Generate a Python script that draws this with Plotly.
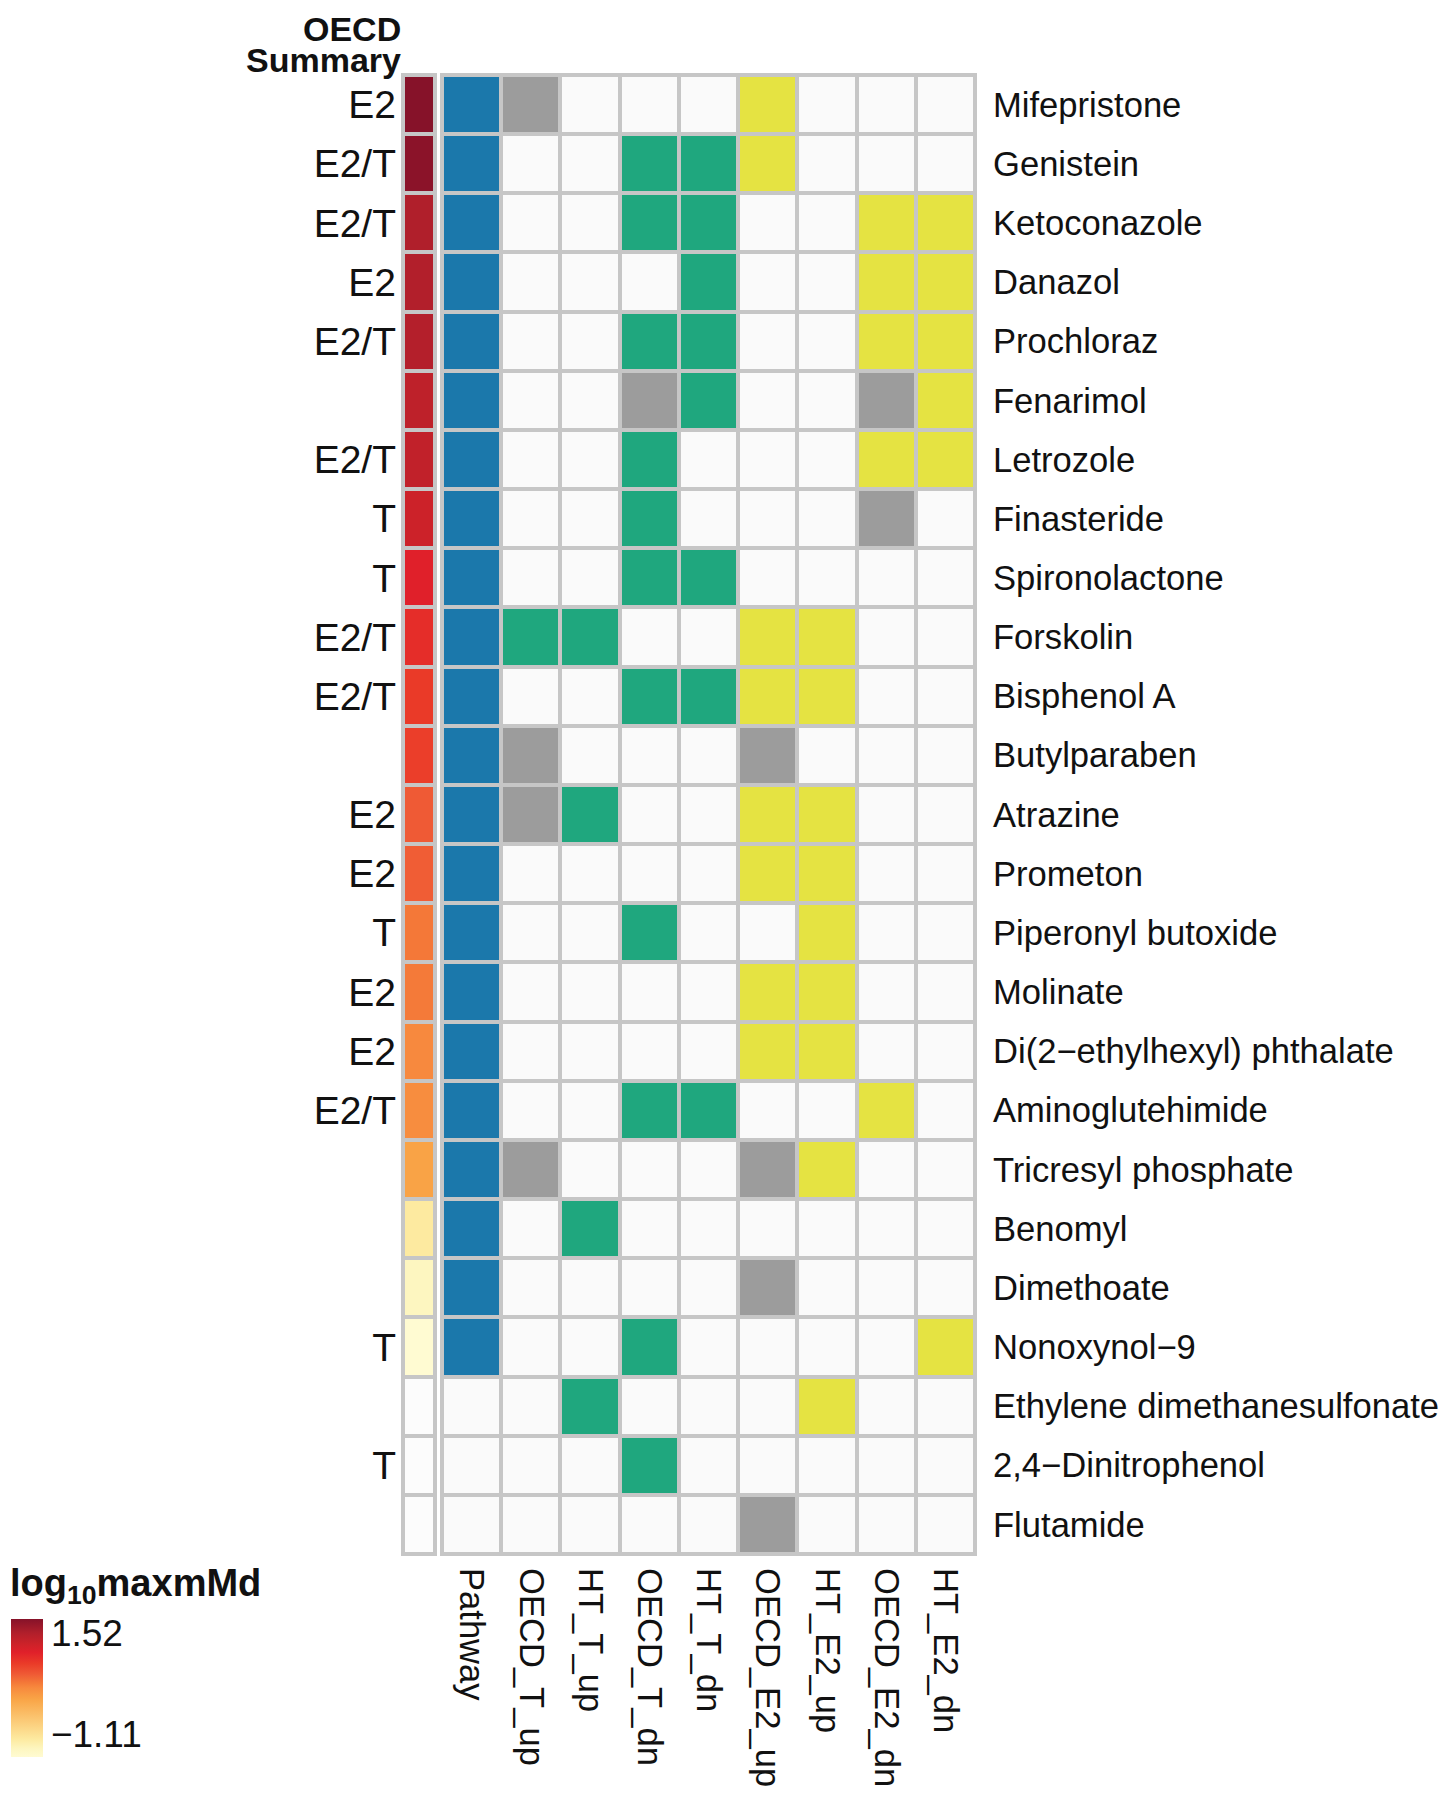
import math
import plotly.graph_objects as go

# compounds, top to bottom
compounds = [
    "Mifepristone", "Genistein", "Ketoconazole", "Danazol", "Prochloraz",
    "Fenarimol", "Letrozole", "Finasteride", "Spironolactone", "Forskolin",
    "Bisphenol A", "Butylparaben", "Atrazine", "Prometon", "Piperonyl butoxide",
    "Molinate", "Di(2\u2212ethylhexyl) phthalate", "Aminoglutehimide",
    "Tricresyl phosphate", "Benomyl", "Dimethoate", "Nonoxynol\u22129",
    "Ethylene dimethanesulfonate", "2,4\u2212Dinitrophenol", "Flutamide",
]

oecd_summary = [
    "E2", "E2/T", "E2/T", "E2", "E2/T", "", "E2/T", "T", "T", "E2/T",
    "E2/T", "", "E2", "E2", "T", "E2", "E2", "E2/T", "", "",
    "", "T", "", "T", "",
]

# log10 maxmMd (None = not available)
log10_maxmmd = [
    1.52, 1.49, 1.26, 1.24, 1.23, 1.15, 1.13, 1.05, 0.89, 0.78,
    0.68, 0.65, 0.47, 0.45, 0.31, 0.30, 0.21, 0.18, 0.00, -0.77,
    -0.95, -1.11, None, None, None,
]

# 0 = not active, 1 = active, 2 = equivocal
pathway    = [1] * 22 + [0, 0, 0]
oecd_t_up  = [2,0,0,0,0,0,0,0,0,1,0,2,2,0,0,0,0,0,2,0,0,0,0,0,0]
ht_t_up    = [0,0,0,0,0,0,0,0,0,1,0,0,1,0,0,0,0,0,0,1,0,0,1,0,0]
oecd_t_dn  = [0,1,1,0,1,2,1,1,1,0,1,0,0,0,1,0,0,1,0,0,0,1,0,1,0]
ht_t_dn    = [0,1,1,1,1,1,0,0,1,0,1,0,0,0,0,0,0,1,0,0,0,0,0,0,0]
oecd_e2_up = [1,1,0,0,0,0,0,0,0,1,1,2,1,1,0,1,1,0,2,0,2,0,0,0,2]
ht_e2_up   = [0,0,0,0,0,0,0,0,0,1,1,0,1,1,1,1,1,0,1,0,0,0,1,0,0]
oecd_e2_dn = [0,0,1,1,1,2,1,2,0,0,0,0,0,0,0,0,0,1,0,0,0,0,0,0,0]
ht_e2_dn   = [0,0,1,1,1,1,1,0,0,0,0,0,0,0,0,0,0,0,0,0,0,1,0,0,0]

columns = ["Pathway", "OECD_T_up", "HT_T_up", "OECD_T_dn", "HT_T_dn",
           "OECD_E2_up", "HT_E2_up", "OECD_E2_dn", "HT_E2_dn"]
column_data = [pathway, oecd_t_up, ht_t_up, oecd_t_dn, ht_t_dn,
               oecd_e2_up, ht_e2_up, oecd_e2_dn, ht_e2_dn]
# what an active call is coloured as, per column
active_kind = ["pathway", "T", "T", "T", "T", "E2", "E2", "E2", "E2"]

# colour index: 0 none, 1 pathway, 2 equivocal, 3 T, 4 E2
kind_index = {"pathway": 1, "T": 3, "E2": 4}
n_rows = len(compounds)
n_cols = len(columns)
z_main = []
for r in range(n_rows):
    row = []
    for c in range(n_cols):
        v = column_data[c][r]
        if v == 1:
            row.append(kind_index[active_kind[c]])
        elif v == 2:
            row.append(2)
        else:
            row.append(0)
    z_main.append(row)

c_none, c_path, c_eq, c_t, c_e2 = "#fafafa", "#1b78ab", "#9c9c9c", "#1fa77e", "#e5e342"
main_scale = [
    [0.0, c_none], [0.125, c_none], [0.125, c_path], [0.375, c_path],
    [0.375, c_eq], [0.625, c_eq], [0.625, c_t], [0.875, c_t],
    [0.875, c_e2], [1.0, c_e2],
]

# yellow -> orange -> red -> dark red, as in the figure
heat_scale = [
    [0.0, "#fffbd2"], [0.06, "#fdf6c0"], [0.13, "#fdeaa0"], [0.42, "#f9a446"],
    [0.50, "#f78a3e"], [0.54, "#f47838"], [0.60, "#ef5a35"], [0.68, "#ea3a28"],
    [0.76, "#e0202a"], [0.82, "#cc2229"], [0.90, "#b01f2b"], [1.0, "#861229"],
]

# the page body adds an 8px offset, so the figure is drawn 8px smaller
OFF = 8
W, H = 1450 - OFF, 1800 - OFF
GRID = "#c6c6c6"
FONT = "Liberation Sans, Arial, sans-serif"
FS = 34.6

# pixel layout (reference coordinates, shifted by OFF)
top, bottom = 73 - OFF, 1556 - OFF
sum_l, sum_r = 401 - OFF, 437 - OFF
main_l, main_r = 440 - OFF, 977 - OFF

def xd(a, b):
    return [a / W, b / W]

def yp(px):
    return 1 - (px - OFF) / H

y_dom = [1 - bottom / H, 1 - top / H]

row_px = (bottom - top) / n_rows
ey = 2 / row_px
sum_px = sum_r - sum_l
es = 2 / (sum_px - 4)
col_px = (main_r - main_l) / n_cols
ex = 2 / col_px

rows_idx = list(range(n_rows))
z_sum = [[v if v is not None else math.nan] for v in log10_maxmmd]
z_na = [[1 if v is None else None] for v in log10_maxmmd]

fig = go.Figure()

fig.add_trace(go.Heatmap(
    z=z_sum, x=[0], y=rows_idx, xaxis="x", yaxis="y",
    colorscale=heat_scale, zmin=-1.11, zmax=1.52, xgap=4, ygap=4,
    hoverongaps=False, showscale=False,
))
fig.add_trace(go.Heatmap(
    z=z_na, x=[0], y=rows_idx, xaxis="x", yaxis="y",
    colorscale=[[0, "#fcfcfc"], [1, "#fcfcfc"]], showscale=False,
    xgap=4, ygap=4, hoverongaps=False,
))
fig.add_trace(go.Heatmap(
    z=z_main, x=list(range(n_cols)), y=rows_idx, xaxis="x2", yaxis="y2",
    colorscale=main_scale, zmin=0, zmax=4, showscale=False, xgap=4, ygap=4,
))

# legend bar: the labels sit a little inside the ends of the bar
fig.add_trace(go.Scatter(
    x=[None, None], y=[None, None], mode="markers", xaxis="x", yaxis="y",
    hoverinfo="skip", showlegend=False,
    marker=dict(
        color=[-1.11, 1.52], colorscale=heat_scale, cmin=-1.71, cmax=1.88,
        showscale=True,
        colorbar=dict(
            x=3 / W, xanchor="left", xpad=0, y=yp(1688), yanchor="middle", ypad=0,
            thickness=32, lenmode="pixels", len=138, outlinewidth=0,
            tickvals=[1.52, -1.11], ticktext=["1.52", "\u22121.11"], ticks="",
            tickfont=dict(size=37, color="#111", family=FONT),
        ),
    ),
))

fig.update_layout(
    width=W, height=H,
    margin=dict(l=0, r=0, t=0, b=0),
    paper_bgcolor="white",
    plot_bgcolor=GRID,
    font=dict(family=FONT, size=FS, color="#111"),
    xaxis=dict(domain=xd(sum_l, sum_r), range=[-0.5 - es, 0.5 + es],
               showticklabels=False, showgrid=False, zeroline=False, fixedrange=True),
    yaxis=dict(domain=y_dom, range=[n_rows - 0.5 + ey, -0.5 - ey], anchor="x",
               tickvals=rows_idx, ticktext=oecd_summary, side="left", ticks="",
               tickfont=dict(size=39), ticklabelstandoff=4,
               showgrid=False, zeroline=False),
    xaxis2=dict(domain=xd(main_l, main_r), range=[-0.5 - ex, n_cols - 0.5 + ex],
                anchor="y2", tickvals=list(range(n_cols)), ticktext=columns,
                tickangle=90, ticks="", ticklabelstandoff=11,
                showgrid=False, zeroline=False),
    yaxis2=dict(domain=y_dom, range=[n_rows - 0.5 + ey, -0.5 - ey], anchor="x2",
                tickvals=rows_idx, ticktext=compounds, side="right", ticks="",
                ticklabelstandoff=15, showgrid=False, zeroline=False),
    annotations=[
        dict(text="<b>OECD</b>", x=(403 - OFF) / W, y=yp(29),
             xref="paper", yref="paper", xanchor="right", yanchor="middle",
             showarrow=False, font=dict(size=34, family=FONT, color="#111")),
        dict(text="<b>Summary</b>", x=(403 - OFF) / W, y=yp(60),
             xref="paper", yref="paper", xanchor="right", yanchor="middle",
             showarrow=False, font=dict(size=34, family=FONT, color="#111")),
        dict(text="<b>log<sub>10</sub>maxmMd</b>", x=0, y=yp(1586),
             xref="paper", yref="paper", xanchor="left", yanchor="middle",
             showarrow=False, font=dict(size=38, family=FONT, color="#111")),
    ],
)

fig.write_html("out.html")
